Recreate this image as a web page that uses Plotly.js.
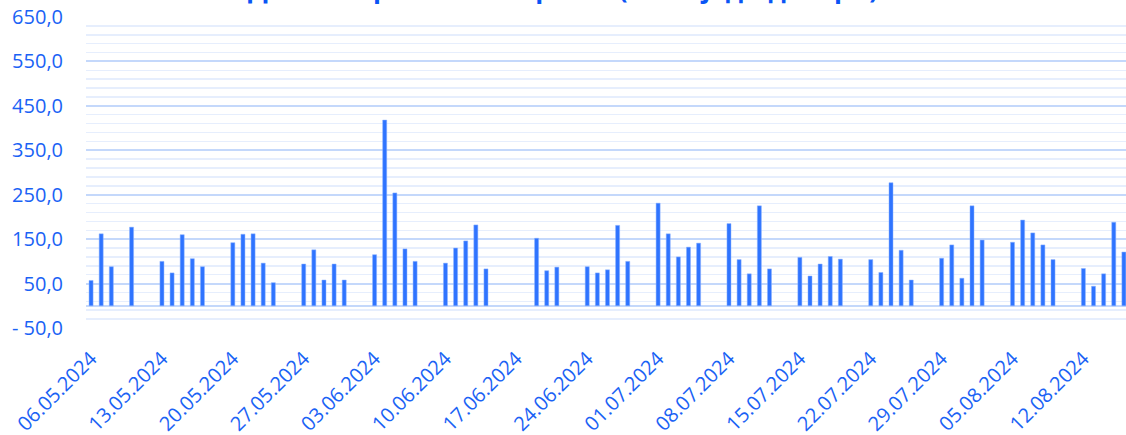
<!DOCTYPE html>
<html>
<head>
<meta charset="utf-8">
<script src="https://cdn.plot.ly/plotly-3.0.1.min.js"></script>
<style>html,body{margin:0;padding:0;background:#fff;}#chart{width:1126px;height:435px;}</style>
</head>
<body>
<div id="chart"></div>
<script>
// Trading days and daily values
const dates = [
  '2024-05-06','2024-05-07','2024-05-08','2024-05-10',
  '2024-05-13','2024-05-14','2024-05-15','2024-05-16','2024-05-17',
  '2024-05-20','2024-05-21','2024-05-22','2024-05-23','2024-05-24',
  '2024-05-27','2024-05-28','2024-05-29','2024-05-30','2024-05-31',
  '2024-06-03','2024-06-04','2024-06-05','2024-06-06','2024-06-07',
  '2024-06-10','2024-06-11','2024-06-12','2024-06-13','2024-06-14',
  '2024-06-19','2024-06-20','2024-06-21',
  '2024-06-24','2024-06-25','2024-06-26','2024-06-27','2024-06-28',
  '2024-07-01','2024-07-02','2024-07-03','2024-07-04','2024-07-05',
  '2024-07-08','2024-07-09','2024-07-10','2024-07-11','2024-07-12',
  '2024-07-15','2024-07-16','2024-07-17','2024-07-18','2024-07-19',
  '2024-07-22','2024-07-23','2024-07-24','2024-07-25','2024-07-26',
  '2024-07-29','2024-07-30','2024-07-31','2024-08-01','2024-08-02',
  '2024-08-05','2024-08-06','2024-08-07','2024-08-08','2024-08-09',
  '2024-08-12','2024-08-13','2024-08-14','2024-08-15','2024-08-16'
];
const values = [
  57, 162, 88, 177,
  100, 74, 160, 106, 88,
  142, 161, 162, 96, 52,
  94, 126, 58, 94, 58,
  115, 418, 254, 128, 100,
  96, 130, 146, 182, 83,
  152, 79, 87,
  88, 74, 81, 181, 100,
  231, 162, 110, 132, 141,
  185, 104, 72, 225, 83,
  109, 67, 94, 111, 105,
  104, 75, 277, 125, 58,
  107, 137, 62, 225, 148,
  143, 193, 164, 137, 104,
  84, 44, 72, 188, 121
];
const yTickVals = [-50, 50, 150, 250, 350, 450, 550, 650];
const yTickText = ['- 50,0', '50,0', '150,0', '250,0', '350,0', '450,0', '550,0', '650,0'];
const titleText = 'Дневен промет на берзата (во илјади денари)';

const blueText = '#1a62f5';
const fontFam = '"Open Sans", "Noto Sans", sans-serif';

const trace = {
  type: 'bar',
  x: dates,
  y: values,
  width: 0.4 * 86400000,
  marker: {color: '#2f74ff', line: {color: '#8fb4ff', width: 0.5}},
  hoverinfo: 'x+y'
};

const layout = {
  width: 1126,
  height: 435,
  margin: {l: 86, r: 0, t: 17, b: 107, pad: 0},
  paper_bgcolor: '#ffffff',
  plot_bgcolor: '#ffffff',
  showlegend: false,
  title: {
    text: titleText,
    x: 0.5, xref: 'container', xanchor: 'center',
    y: 1, yref: 'container', yanchor: 'bottom',
    pad: {b: 2},
    font: {family: fontFam, size: 26, color: '#0a55f5', weight: 'bold'}
  },
  xaxis: {
    type: 'date',
    range: ['2024-05-05 12:00', '2024-08-16 05:00'],
    tick0: '2024-05-06',
    dtick: 7 * 86400000,
    tickformat: '%d.%m.%Y',
    tickangle: -45,
    showgrid: false,
    zeroline: false,
    showline: false,
    ticks: '',
    ticklabelstandoff: 14,
    tickfont: {family: fontFam, size: 20, color: blueText}
  },
  yaxis: {
    range: [-50, 650],
    tickmode: 'array',
    tickvals: yTickVals,
    ticktext: yTickText,
    showgrid: true,
    gridcolor: '#c4d8fb',
    gridwidth: 2,
    zeroline: true,
    zerolinecolor: '#c4d8fb',
    zerolinewidth: 2,
    showline: false,
    ticks: '',
    ticklabelstandoff: 22,
    tickfont: {family: fontFam, size: 20, color: blueText},
    minor: {tick0: -50, dtick: 20, showgrid: true, gridcolor: '#e6eefd', gridwidth: 1.5}
  },
  bargap: 0
};

Plotly.newPlot('chart', [trace], layout, {displayModeBar: false, staticPlot: true});
</script>
</body>
</html>
